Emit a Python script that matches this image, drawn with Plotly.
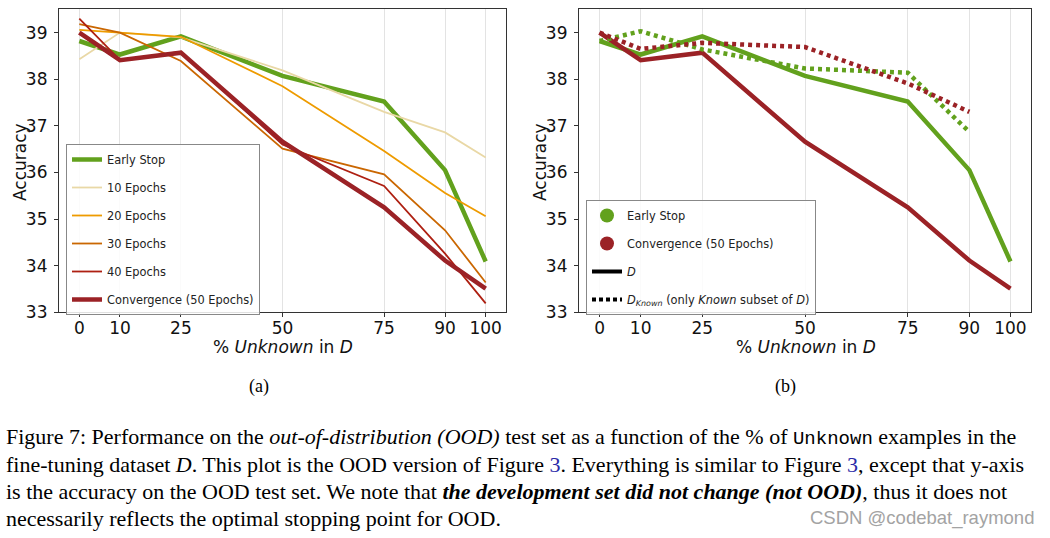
import plotly.graph_objects as go

# ---------------- data ----------------
pct_unknown = [0, 10, 25, 50, 75, 90, 100]
early_stop = [38.82, 38.53, 38.92, 38.07, 37.52, 36.05, 34.09]
epochs_10 = [38.43, 39.00, 38.90, 38.19, 37.30, 36.86, 36.32]
epochs_20 = [39.06, 39.00, 38.91, 37.85, 36.46, 35.56, 35.06]
epochs_30 = [39.18, 39.00, 38.39, 36.51, 35.96, 34.76, 33.64]
epochs_40 = [39.30, 38.41, 38.59, 36.60, 35.71, 34.26, 33.19]
convergence = [39.00, 38.41, 38.57, 36.66, 35.25, 34.11, 33.51]

pct_known = [0, 10, 25, 50, 75, 90]
early_stop_known = [38.82, 39.03, 38.64, 38.23, 38.14, 36.87]
convergence_known = [39.00, 38.65, 38.78, 38.69, 37.91, 37.30]

x_ticks = [0, 10, 25, 50, 75, 90, 100]
y_ticks = [33, 34, 35, 36, 37, 38, 39]

# ---------------- style ----------------
GREEN = "#62a11d"
CONV = "#9b2226"
C10 = "#e9d8a6"
C20 = "#ee9b00"
C30 = "#ca6702"
C40 = "#ae2012"
FONT = "DejaVu Sans"

fig = go.Figure()

# ---------- panel (a) ----------
left_series = [
    ("10 Epochs", epochs_10, C10, 1.8),
    ("20 Epochs", epochs_20, C20, 1.8),
    ("30 Epochs", epochs_30, C30, 1.8),
    ("40 Epochs", epochs_40, C40, 1.8),
]
fig.add_trace(go.Scatter(x=pct_unknown, y=early_stop, mode="lines", name="Early Stop",
                         line=dict(color=GREEN, width=4.5), xaxis="x", yaxis="y",
                         legend="legend", legendgroup="a0", legendrank=1))
for i, (nm, vals, col, w) in enumerate(left_series):
    fig.add_trace(go.Scatter(x=pct_unknown, y=vals, mode="lines", name=nm,
                             line=dict(color=col, width=w), xaxis="x", yaxis="y",
                             legend="legend", legendgroup=f"a{i+1}", legendrank=i + 2))
fig.add_trace(go.Scatter(x=pct_unknown, y=convergence, mode="lines", name="Convergence (50 Epochs)",
                         line=dict(color=CONV, width=4.5), xaxis="x", yaxis="y",
                         legend="legend", legendgroup="a5", legendrank=6))

# ---------- panel (b) ----------
fig.add_trace(go.Scatter(x=pct_unknown, y=early_stop, mode="lines", showlegend=False,
                         line=dict(color=GREEN, width=4.5), xaxis="x2", yaxis="y2"))
fig.add_trace(go.Scatter(x=pct_unknown, y=convergence, mode="lines", showlegend=False,
                         line=dict(color=CONV, width=4.5), xaxis="x2", yaxis="y2"))
fig.add_trace(go.Scatter(x=pct_known, y=early_stop_known, mode="lines", showlegend=False,
                         line=dict(color=GREEN, width=4.5, dash="4px,4px"), xaxis="x2", yaxis="y2"))
fig.add_trace(go.Scatter(x=pct_known, y=convergence_known, mode="lines", showlegend=False,
                         line=dict(color=CONV, width=4.5, dash="4px,4px"), xaxis="x2", yaxis="y2"))

# legend-only entries for panel (b)
fig.add_trace(go.Scatter(x=[None], y=[None], mode="markers", name="Early Stop",
                         marker=dict(color=GREEN, size=14), xaxis="x2", yaxis="y2",
                         legend="legend2", legendgroup="b0", legendrank=1))
fig.add_trace(go.Scatter(x=[None], y=[None], mode="markers", name="Convergence (50 Epochs)",
                         marker=dict(color=CONV, size=14), xaxis="x2", yaxis="y2",
                         legend="legend2", legendgroup="b1", legendrank=2))
fig.add_trace(go.Scatter(x=[None], y=[None], mode="lines", name="<i>D</i>",
                         line=dict(color="black", width=4), xaxis="x2", yaxis="y2",
                         legend="legend2", legendgroup="b2", legendrank=3))
fig.add_trace(go.Scatter(x=[None], y=[None], mode="lines",
                         name="<i>D</i><sub><i>Known</i></sub> (only <i>Known</i> subset of <i>D</i>)",
                         line=dict(color="black", width=4, dash="4px,3px"), xaxis="x2", yaxis="y2",
                         legend="legend2", legendgroup="b3", legendrank=4))

H = 538
W = 1050
y_dom = [(H - 312.3) / H, (H - 9.3) / H]

def xaxis(domain, anchor):
    return dict(domain=domain, anchor=anchor, range=[-5, 105], tickmode="array",
                tickvals=x_ticks, ticktext=[str(v) for v in x_ticks], automargin=False,
                showgrid=True, gridcolor="#e3e3e3", gridwidth=1, zeroline=False,
                showline=True, mirror=True, linecolor="#333333", linewidth=1.2,
                ticks="outside", ticklen=4, tickcolor="#333333", ticklabelstandoff=-4,
                tickfont=dict(family=FONT, size=17, color="#111"))

def yaxis(anchor):
    return dict(domain=y_dom, anchor=anchor, range=[33, 39.5], tickmode="array",
                tickvals=y_ticks, showgrid=False, zeroline=False, automargin=False,
                showline=True, mirror=True, linecolor="#333333", linewidth=1.2,
                ticks="outside", ticklen=4, tickcolor="#333333", ticklabelstandoff=3,
                tickfont=dict(family=FONT, size=17, color="#111"))

legend_common = dict(bgcolor="rgba(255,255,255,0.85)", bordercolor="#888888", borderwidth=1,
                     font=dict(family=FONT, size=11.4, color="#222"), traceorder="grouped",
                     tracegroupgap=9, xanchor="left", yanchor="top", itemsizing="trace")

fig.update_layout(
    width=W, height=H,
    margin=dict(l=0, r=0, t=0, b=0, autoexpand=False),
    paper_bgcolor="white", plot_bgcolor="white",
    xaxis=xaxis([59 / W, 506 / W], "y"),
    yaxis=yaxis("x"),
    xaxis2=xaxis([579 / W, 1031 / W], "y2"),
    yaxis2=yaxis("x2"),
    legend=dict(x=66 / W, y=(H - 144) / H, **legend_common),
    legend2=dict(x=586 / W, y=(H - 200) / H, **legend_common),
    showlegend=True,
)

# ---------- axis titles ----------
for xx in (20, 540):
    fig.add_annotation(text="Accuracy", x=xx / W, y=(H - 162) / H, xref="paper", yref="paper",
                       showarrow=False, textangle=-90, xanchor="center", yanchor="middle",
                       font=dict(family=FONT, size=17, color="#111"))
for xx in (283, 806):
    fig.add_annotation(text="% <i>Unknown</i> in <i>D</i>", x=xx / W, y=(H - 347) / H,
                       xref="paper", yref="paper", showarrow=False,
                       xanchor="center", yanchor="middle",
                       font=dict(family=FONT, size=17, color="#111"))

# ---------- sub-captions and figure caption ----------
serif = "Liberation Serif"
for txt, xx, yy in [("(a)", 259, 387), ("(b)", 785, 387)]:
    fig.add_annotation(text=txt, x=xx / W, y=(H - yy) / H, xref="paper", yref="paper",
                       showarrow=False, xanchor="center", yanchor="middle",
                       font=dict(family=serif, size=18, color="black"))

mono = "<span style='font-family:Liberation Mono;font-size:19px'>Unknown</span>"
ref3 = "<span style='color:#2a2aa8'>3</span>"
caption_lines = [
    "Figure 7: Performance on the <i>out-of-distribution (OOD)</i> test set as a function of the % of "
    + mono + " examples in the",
    "fine-tuning dataset <i>D</i>. This plot is the OOD version of Figure " + ref3
    + ". Everything is similar to Figure " + ref3 + ", except that y-axis",
    "is the accuracy on the OOD test set. We note that <b><i>the development set did not change (not OOD)</i></b>"
    ", thus it does not",
    "necessarily reflects the optimal stopping point for OOD.",
]
caption_y = [437, 464, 491, 518]
for txt, yy in zip(caption_lines, caption_y):
    fig.add_annotation(text=txt, x=4 / W, y=(H - yy) / H, xref="paper", yref="paper",
                       showarrow=False, xanchor="left", yanchor="middle",
                       font=dict(family=serif, size=22, color="black"))

fig.add_annotation(text="CSDN @codebat_raymond", x=1036 / W, y=(H - 518) / H, xref="paper", yref="paper",
                   showarrow=False, xanchor="right", yanchor="middle",
                   font=dict(family="Liberation Sans", size=18.5, color="#a3a3a3"))

fig.write_html("out.html", config={"displayModeBar": False},
               post_script="document.body.style.margin='0px';document.body.style.overflow='hidden';")
